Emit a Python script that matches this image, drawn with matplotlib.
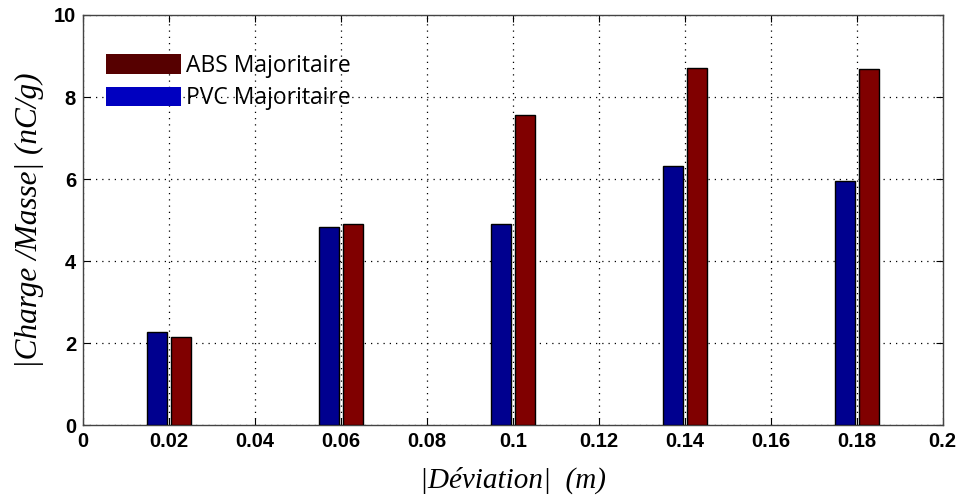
import numpy as np
import matplotlib.pyplot as plt
from matplotlib.patches import Patch

# positions des groupes (|Deviation| en m)
deviation = [0.02, 0.06, 0.10, 0.14, 0.18]
pvc = [2.28, 4.82, 4.91, 6.32, 5.96]
abs_ = [2.16, 4.91, 7.56, 8.70, 8.68]

x_ticks = [0, 0.02, 0.04, 0.06, 0.08, 0.1, 0.12, 0.14, 0.16, 0.18, 0.2]
x_labels = ['0', '0.02', '0.04', '0.06', '0.08', '0.1', '0.12', '0.14', '0.16', '0.18', '0.2']
y_ticks = [0, 2, 4, 6, 8, 10]

w = 0.0047
off = 0.00277

fig = plt.figure(figsize=(9.6, 4.99), dpi=100)
ax = fig.add_axes([0.0865, 0.148, 0.8955, 0.822])

x = np.array(deviation)
ax.bar(x - off, pvc, width=w, color='#00008f', edgecolor='black', linewidth=1, zorder=3)
ax.bar(x + off, abs_, width=w, color='#800000', edgecolor='black', linewidth=1, zorder=3)

ax.set_xlim(0, 0.2)
ax.set_ylim(0, 10)
ax.set_xticks(x_ticks)
ax.set_xticklabels(x_labels)
ax.set_yticks(y_ticks)
ax.grid(True, linestyle=(0, (1, 4)), color='black', linewidth=0.9, zorder=0)
ax.tick_params(direction='in', length=5, top=True, right=True, labelsize=14.5, pad=5)
for lab in ax.get_xticklabels() + ax.get_yticklabels():
    lab.set_family('Liberation Sans')
    lab.set_weight('bold')
for s in ax.spines.values():
    s.set_color('#444444')
    s.set_linewidth(1)

ax.set_xlabel('|Déviation|  (m)', family='Liberation Serif', style='italic', fontsize=21, labelpad=11)
ax.set_ylabel('|Charge /Masse| (nC/g)', family='Liberation Serif', style='italic', fontsize=22.5, labelpad=7)

handles = [Patch(facecolor='#560000', edgecolor='none', label='ABS Majoritaire'),
           Patch(facecolor='#0000c0', edgecolor='none', label='PVC Majoritaire')]
ax.legend(handles=handles, loc='upper left', bbox_to_anchor=(0.0165, 0.927), frameon=False,
          handlelength=3.27, handleheight=0.95, handletextpad=0.2, labelspacing=0.36,
          prop={'family': 'Open Sans', 'size': 16.5}, borderaxespad=0)

fig.savefig('out.png', dpi=100)
